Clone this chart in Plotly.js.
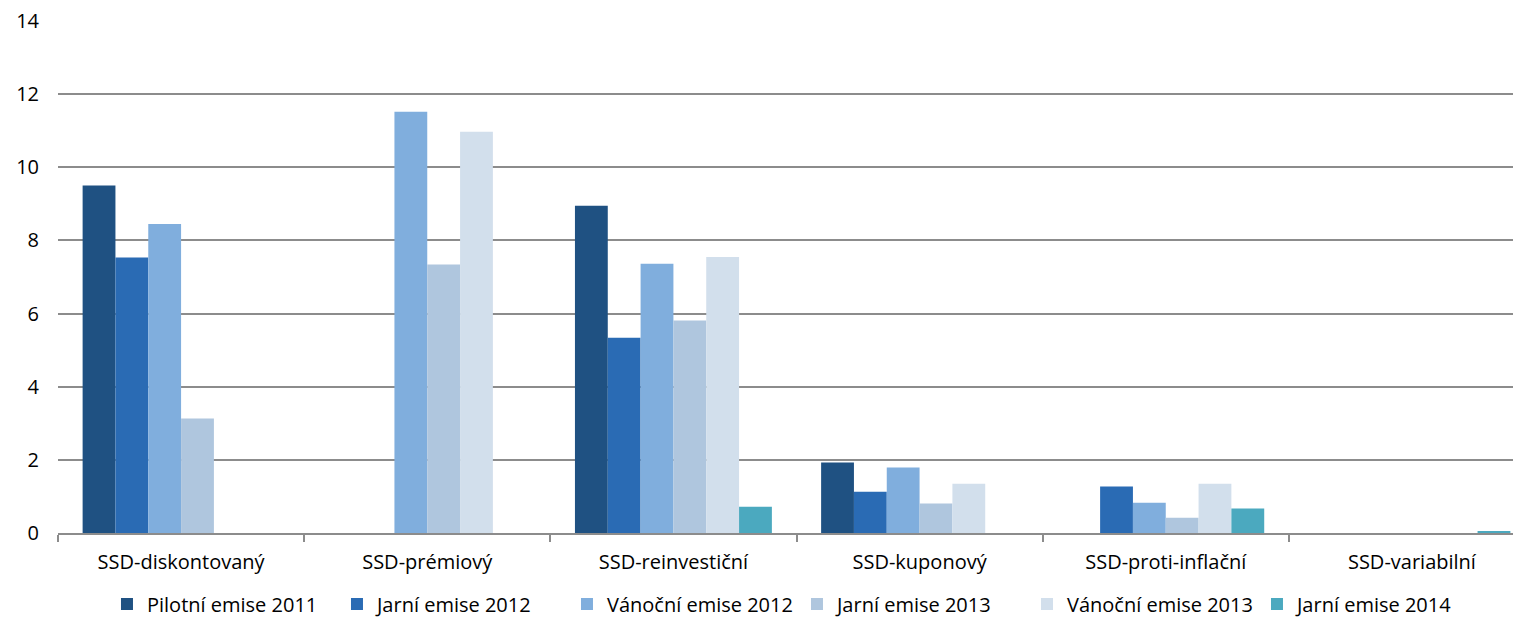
<!DOCTYPE html>
<html>
<head>
<meta charset="utf-8">
<script src="https://cdn.plot.ly/plotly-3.0.1.min.js"></script>
<style>
  html, body { margin: 0; padding: 0; background: #fff; overflow: hidden; }
  #wrap { width: 1513px; height: 620px; overflow: hidden; }
  #chart { width: 1535px; height: 620px; }
</style>
</head>
<body>
<div id="wrap"><div id="chart"></div></div>
<script>
// categories and series
const categories = ['SSD-diskontovaný', 'SSD-prémiový', 'SSD-reinvestiční', 'SSD-kuponový', 'SSD-proti-inflační', 'SSD-variabilní'];

const seriesNames = ['Pilotní emise 2011', 'Jarní emise 2012', 'Vánoční emise 2012', 'Jarní emise 2013', 'Vánoční emise 2013', 'Jarní emise 2014'];

const pilot2011   = [9.5, 0, 8.95, 1.93, 0, 0];
const jaro2012    = [7.53, 0, 5.34, 1.13, 1.27, 0];
const vanoce2012  = [8.45, 11.52, 7.36, 1.79, 0.83, 0];
const jaro2013    = [3.13, 7.34, 5.81, 0.81, 0.42, 0];
const vanoce2013  = [0, 10.97, 7.55, 1.35, 1.35, 0];
const jaro2014    = [0, 0, 0.72, 0, 0.67, 0.03];

const seriesValues = [pilot2011, jaro2012, vanoce2012, jaro2013, vanoce2013, jaro2014];
const colors = ['#1f5182', '#2a6bb4', '#80aedd', '#afc6de', '#d2dfec', '#4ba9bf'];

const traces = seriesNames.map((name, i) => ({
    type: 'bar',
    name: name,
    x: categories,
    y: seriesValues[i],
    marker: {color: colors[i], line: {width: 0}},
    hoverinfo: 'x+y+name'
}));

const font = {family: 'Open Sans, Liberation Sans, sans-serif', size: 20, color: '#000'};

// the original plot runs a bit past the right edge of the picture
const layout = {
    width: 1535,
    height: 620,
    margin: {l: 58, r: 0, t: 21, b: 87},
    paper_bgcolor: '#fff',
    plot_bgcolor: '#fff',
    font: font,
    barmode: 'group',
    bargap: 0.2,
    bargroupgap: 0,
    showlegend: true,
    legend: {
        orientation: 'h',
        x: 768 / 1535,
        xanchor: 'center',
        yref: 'container',
        y: 0.026,
        yanchor: 'middle',
        font: font,
        itemwidth: 30,
        entrywidth: 185,
        traceorder: 'normal'
    },
    xaxis: {
        type: 'category',
        automargin: false,
        showgrid: false,
        showline: true,
        linecolor: '#8c8c8c',
        linewidth: 1.5,
        ticks: 'outside',
        tickson: 'boundaries',
        ticklen: 7,
        tickcolor: '#8c8c8c',
        tickwidth: 1.5,
        ticklabelstandoff: 10,
        tickfont: font,
        fixedrange: true
    },
    yaxis: {
        range: [0, 14],
        dtick: 2,
        automargin: false,
        showgrid: true,
        gridcolor: '#8c8c8c',
        gridwidth: 1.5,
        showline: false,
        zeroline: false,
        ticks: '',
        ticklabelstandoff: 18,
        tickfont: font,
        fixedrange: true
    }
};

Plotly.newPlot('chart', traces, layout, {displayModeBar: false, responsive: false});
</script>
</body>
</html>
